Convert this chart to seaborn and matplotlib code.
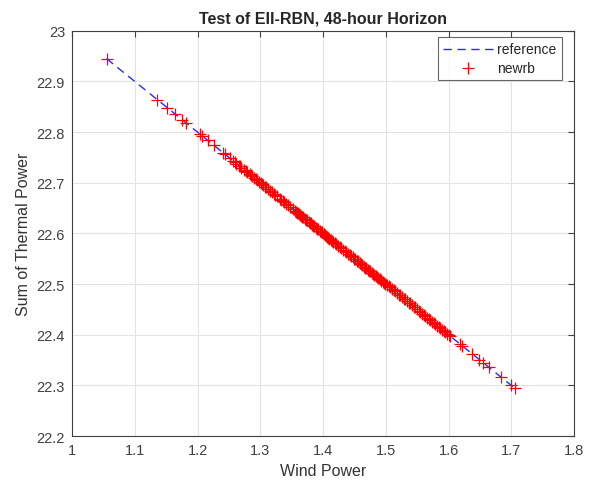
import matplotlib
matplotlib.use("Agg")
import matplotlib.pyplot as plt
import seaborn as sns
import pandas as pd

# Data
wind_power = [
    1.055, 1.136, 1.152, 1.164, 1.176, 1.181, 1.204, 1.207, 1.216, 1.226,
    1.241, 1.244, 1.252, 1.257, 1.262, 1.266, 1.270, 1.274, 1.279, 1.283,
    1.287, 1.290, 1.294, 1.298, 1.302, 1.305, 1.309, 1.313, 1.318, 1.322,
    1.326, 1.331, 1.336, 1.341, 1.347, 1.352, 1.356, 1.359, 1.362, 1.365,
    1.368, 1.371, 1.374, 1.377, 1.380, 1.383, 1.386, 1.389, 1.392, 1.395,
    1.398, 1.401, 1.404, 1.407, 1.410, 1.413, 1.416, 1.420, 1.424, 1.428,
    1.432, 1.436, 1.440, 1.444, 1.447, 1.451, 1.455, 1.459, 1.462, 1.466,
    1.469, 1.472, 1.475, 1.478, 1.481, 1.484, 1.487, 1.490, 1.493, 1.496,
    1.499, 1.502, 1.506, 1.510, 1.514, 1.518, 1.522, 1.526, 1.530, 1.534,
    1.538, 1.542, 1.546, 1.550, 1.554, 1.558, 1.562, 1.566, 1.570, 1.574,
    1.578, 1.582, 1.586, 1.590, 1.594, 1.598, 1.602, 1.618, 1.622, 1.637,
    1.649, 1.655, 1.664, 1.684, 1.700, 1.705,
    1.2595, 1.2675, 1.2765, 1.2845, 1.2925, 1.3005, 1.3075, 1.3155, 1.3235, 1.3335,
    1.3385, 1.3445, 1.3575, 1.3605, 1.3635, 1.3665, 1.3725, 1.3785, 1.3845, 1.3905,
    1.3965, 1.4025, 1.4085, 1.4145, 1.4185, 1.4265, 1.4345, 1.4425, 1.4495, 1.4535,
    1.4605, 1.4675, 1.4735, 1.4795, 1.4855, 1.4915, 1.4975, 1.5045, 1.5125, 1.5205,
    1.5285, 1.5365, 1.5445, 1.5525, 1.5605, 1.5685, 1.5765, 1.5845, 1.5925, 1.6005,
]
thermal_newrb = [
    22.945, 22.864, 22.848, 22.836, 22.824, 22.819, 22.796, 22.793, 22.784, 22.774,
    22.759, 22.756, 22.748, 22.743, 22.738, 22.734, 22.730, 22.726, 22.721, 22.717,
    22.713, 22.710, 22.706, 22.702, 22.698, 22.695, 22.691, 22.687, 22.682, 22.678,
    22.674, 22.669, 22.664, 22.659, 22.653, 22.648, 22.644, 22.641, 22.638, 22.635,
    22.632, 22.629, 22.626, 22.623, 22.620, 22.617, 22.614, 22.611, 22.608, 22.605,
    22.602, 22.599, 22.596, 22.593, 22.590, 22.587, 22.584, 22.580, 22.576, 22.572,
    22.568, 22.564, 22.560, 22.556, 22.553, 22.549, 22.545, 22.541, 22.538, 22.534,
    22.531, 22.528, 22.525, 22.522, 22.519, 22.516, 22.513, 22.510, 22.507, 22.504,
    22.501, 22.498, 22.494, 22.490, 22.486, 22.482, 22.478, 22.474, 22.470, 22.466,
    22.462, 22.458, 22.454, 22.450, 22.446, 22.442, 22.438, 22.434, 22.430, 22.426,
    22.422, 22.418, 22.414, 22.410, 22.406, 22.402, 22.398, 22.382, 22.378, 22.363,
    22.351, 22.345, 22.336, 22.316, 22.300, 22.295,
    22.7405, 22.7325, 22.7235, 22.7155, 22.7075, 22.6995, 22.6925, 22.6845, 22.6765, 22.6665,
    22.6615, 22.6555, 22.6425, 22.6395, 22.6365, 22.6335, 22.6275, 22.6215, 22.6155, 22.6095,
    22.6035, 22.5975, 22.5915, 22.5855, 22.5815, 22.5735, 22.5655, 22.5575, 22.5505, 22.5465,
    22.5395, 22.5325, 22.5265, 22.5205, 22.5145, 22.5085, 22.5025, 22.4955, 22.4875, 22.4795,
    22.4715, 22.4635, 22.4555, 22.4475, 22.4395, 22.4315, 22.4235, 22.4155, 22.4075, 22.3995,
]
thermal_reference = list(thermal_newrb)

x_ticks = [1.0, 1.1, 1.2, 1.3, 1.4, 1.5, 1.6, 1.7, 1.8]
x_tick_labels = ["1", "1.1", "1.2", "1.3", "1.4", "1.5", "1.6", "1.7", "1.8"]
y_ticks = [22.2, 22.3, 22.4, 22.5, 22.6, 22.7, 22.8, 22.9, 23.0]
y_tick_labels = ["22.2", "22.3", "22.4", "22.5", "22.6", "22.7", "22.8", "22.9", "23"]

df = pd.DataFrame({"wind": wind_power, "ref": thermal_reference, "newrb": thermal_newrb})

sns.set_style("white")
plt.rcParams["font.family"] = ["Liberation Sans", "DejaVu Sans"]

fig = plt.figure(figsize=(6.05, 4.89), dpi=100)
ax = fig.add_axes([0.119, 0.106, 0.830, 0.829])

sns.lineplot(data=df, x="wind", y="ref", ax=ax, color="#2a2aff", linewidth=1.0,
             linestyle=(0, (6, 4)), label="reference", sort=True, estimator=None)
sns.scatterplot(data=df, x="wind", y="newrb", ax=ax, marker="+", color="#ff0000",
                s=68, linewidth=0.9, label="newrb", zorder=3)

ax.set_xlim(1.0, 1.8)
ax.set_ylim(22.2, 23.0)
ax.set_xticks(x_ticks)
ax.set_xticklabels(x_tick_labels)
ax.set_yticks(y_ticks)
ax.set_yticklabels(y_tick_labels)
ax.grid(True, color="#e3e3e3", linewidth=0.8)
ax.set_axisbelow(True)
ax.tick_params(direction="in", length=4, width=0.8, colors="#404040",
               labelsize=10.5, top=True, right=True, pad=5)
for s in ax.spines.values():
    s.set_color("#404040")
    s.set_linewidth(0.8)

ax.set_xlabel("Wind Power", fontsize=11.5, color="#333333")
ax.set_ylabel("Sum of Thermal Power", fontsize=11.5, color="#333333")
ax.set_title("Test of EII-RBN, 48-hour Horizon", fontsize=11.5, fontweight="bold", pad=6)

leg = ax.legend(loc="upper right", bbox_to_anchor=(0.976, 0.985), borderaxespad=0,
                fontsize=10, frameon=True, fancybox=False, edgecolor="#404040",
                handlelength=3.6, labelspacing=0.3, borderpad=0.4, handletextpad=0.3)
leg.get_frame().set_linewidth(0.8)

fig.savefig("out.png", dpi=100)
